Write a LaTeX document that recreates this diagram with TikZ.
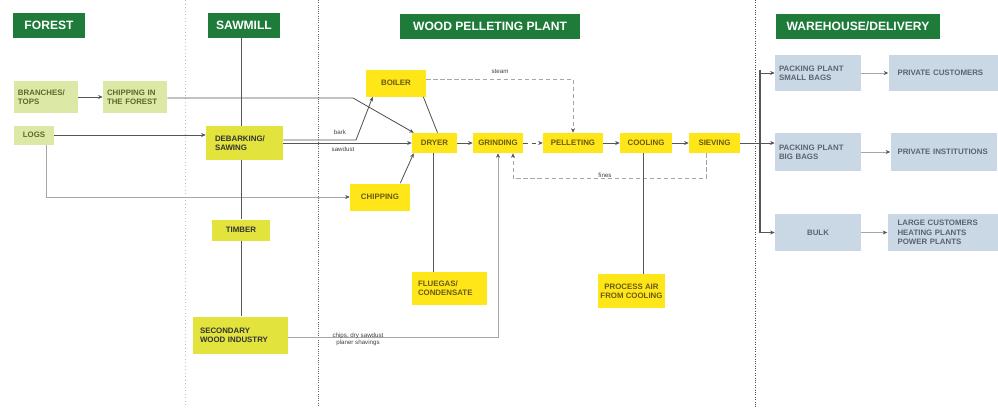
\documentclass[tikz,border=0pt]{standalone}
\usepackage{fontspec}
\setmainfont{Liberation Sans}
\usetikzlibrary{arrows.meta,positioning}
\definecolor{HeadGreen}{HTML}{1E7B3A}
\definecolor{ForestFill}{HTML}{DCE8A6}
\definecolor{ForestText}{HTML}{5A6A2A}
\definecolor{SawFill}{HTML}{E2E33C}
\definecolor{PlantFill}{HTML}{FFE619}
\definecolor{PlantText}{HTML}{6A5A10}
\definecolor{StoreFill}{HTML}{CAD8E6}
\definecolor{StoreText}{HTML}{5A6470}
\definecolor{LineGray}{HTML}{555555}

\begin{document}
\begin{tikzpicture}[
  x=0.25mm, y=-0.25mm,
  font=\fontsize{5.6}{6.6}\selectfont\bfseries,
  >={Stealth[length=3.2pt,width=2.8pt,color=LineGray]},
  % stage header (green bar)
  hdr/.style={fill=HeadGreen, text=white, font=\fontsize{8.6}{10}\selectfont\bfseries,
              minimum height=6.25mm, inner sep=2pt},
  % forest step
  fbox/.style={fill=ForestFill, text=ForestText, inner sep=1pt, align=left},
  % sawmill step
  sbox/.style={fill=SawFill, text=black!80, inner sep=1pt, align=left},
  % pelleting plant step
  pbox/.style={fill=PlantFill, text=PlantText, inner sep=1pt, align=center},
  % warehouse / delivery step
  wbox/.style={fill=StoreFill, text=StoreText, inner sep=1pt, align=left},
  % main flow line
  ln/.style={draw=LineGray, line width=0.6pt},
  % side flow line
  lnlight/.style={draw=gray!70, line width=0.4pt},
  % small flow label
  lbl/.style={font=\fontsize{4.4}{5}\selectfont, text=black!75, inner sep=0.5pt, align=center},
]

\useasboundingbox (0,0) rectangle (998,407);

%% ── Stage dividers ───────────────────────────────────────────────────────
\draw[gray!50, line width=0.5pt, dotted] (185,0) -- (185,407);
\draw[gray!80!black, line width=0.6pt, densely dotted] (318,0) -- (318,407);
\draw[black!70, line width=0.7pt, densely dotted] (755,0) -- (755,407);

%% ── Stage headers ────────────────────────────────────────────────────────
\node[hdr, minimum width=17.75mm] (forest)  at (49,25)  {FOREST};
\node[hdr, minimum width=18mm]    (sawmill) at (244,25) {SAWMILL};
\node[hdr, minimum width=45mm]    (plant)   at (490,26) {WOOD PELLETING PLANT};
\node[hdr, minimum width=41mm]    (store)   at (858,26) {WAREHOUSE/DELIVERY};

%% ── Forest ───────────────────────────────────────────────────────────────
\node[fbox, text width=14mm, inner xsep=1mm, minimum height=8mm]  (branches) at (46,97)  {BRANCHES/\\TOPS};
\node[fbox, text width=14mm, inner xsep=1mm, minimum height=8mm]  (chipF)    at (135,97) {CHIPPING IN\\THE FOREST};
\node[fbox, align=center, minimum width=10mm, minimum height=4.75mm] (logs) at (34,135)  {LOGS};

%% ── Sawmill ──────────────────────────────────────────────────────────────
\node[sbox, text width=14.75mm, inner xsep=2.25mm, minimum height=8.5mm] (debark) at (244.5,143) {DEBARKING/\\SAWING};
\node[sbox, align=center, minimum width=14.5mm, minimum height=5.25mm]  (timber) at (241,230)   {TIMBER};
\node[sbox, text width=20.25mm, inner xsep=1.75mm, minimum height=9.25mm] (second) at (240.5,335) {SECONDARY\\WOOD INDUSTRY};

%% ── Wood pelleting plant ─────────────────────────────────────────────────
\node[pbox, minimum width=15mm,    minimum height=6.75mm] (boiler)  at (396,83)    {BOILER};
\node[pbox, minimum width=11.25mm, minimum height=5mm]    (dryer)   at (434.5,143) {DRYER};
\node[pbox, minimum width=12.5mm,  minimum height=5mm]    (grind)   at (498,143)   {GRINDING};
\node[pbox, minimum width=15mm,    minimum height=5mm]    (pellet)  at (573,143)   {PELLETING};
\node[pbox, minimum width=13mm,    minimum height=5mm]    (cool)    at (646,143)   {COOLING};
\node[pbox, minimum width=12.75mm, minimum height=5mm]    (sieve)   at (714.5,143) {SIEVING};
\node[pbox, minimum width=15mm,    minimum height=6.75mm] (chipping) at (380,197)  {CHIPPING};
\node[pbox, align=left, text width=15.75mm, inner xsep=1.5mm, minimum height=8.25mm] (flue) at (449.5,288.5) {FLUEGAS/\\CONDENSATE};
\node[pbox, minimum width=16.75mm, minimum height=8.5mm]  (procair) at (631.5,291) {PROCESS AIR\\FROM COOLING};

%% ── Warehouse / delivery ─────────────────────────────────────────────────
\node[wbox, text width=19.5mm, inner xsep=1mm, minimum height=9mm]    (packS) at (818,73)    {PACKING PLANT\\SMALL BAGS};
\node[wbox, text width=23mm, inner xsep=2.25mm, minimum height=9mm]   (privC) at (943.5,73)  {PRIVATE CUSTOMERS};
\node[wbox, text width=19.5mm, inner xsep=1mm, minimum height=9.5mm]  (packB) at (818,152)   {PACKING PLANT\\BIG BAGS};
\node[wbox, text width=23mm, inner xsep=1.75mm, minimum height=9.5mm] (privI) at (943.5,152) {PRIVATE INSTITUTIONS};
\node[wbox, align=center, minimum width=21.5mm, minimum height=9.25mm] (bulk) at (818,232.5) {BULK};
\node[wbox, text width=23mm, inner xsep=2.5mm, minimum height=9.25mm] (large) at (943.5,232.5) {LARGE CUSTOMERS\\HEATING PLANTS\\POWER PLANTS};

%% ── Bend points ──────────────────────────────────────────────────────────
\coordinate (cfBend)   at (353,98);
\coordinate (barkBend) at (356,140);
\coordinate (busN)     at (760,70);
\coordinate (busS)     at (760,232.5);

%% ── Forest and sawmill flows ─────────────────────────────────────────────
\draw[ln, ->] (branches) -- (chipF);
\draw[ln, ->] (chipF.east |- cfBend) -- (cfBend) -- ([xshift=0.5mm]dryer.north west);
\draw[ln, ->] (logs.east) -- (logs.east -| debark.west);
\draw[lnlight, ->] ([xshift=3mm]logs.south) |- (chipping.west);
\draw[ln] (timber |- sawmill.south) -- (timber |- debark.north);
\draw[ln] (timber |- debark.south) -- (timber.north);
\draw[ln] (timber.south) -- (timber |- second.north);

%% ── Into the dryer ───────────────────────────────────────────────────────
\draw[ln, ->] (debark.east) -- (dryer.west);
\draw[ln, ->] (debark.east |- barkBend) -- (barkBend) -- ([xshift=1.75mm]boiler.south west);
\node[lbl] (barkL) at (340,132) {bark};
\node[lbl] (sawL)  at (343,149) {sawdust};
\draw[ln] ([xshift=-0.75mm]boiler.south east) -- ([xshift=0.75mm]dryer.north);
\draw[ln, ->] ([xshift=-2.5mm]chipping.north east) -- ([xshift=0.5mm]dryer.south west);
\draw[lnlight, densely dashed, ->] (boiler.east |- 0,79) -| (pellet.north);
\node[lbl] (steamL) at (500,72) {steam};

%% ── Pelleting line ───────────────────────────────────────────────────────
\draw[ln, ->] (dryer) -- (grind);
\draw[ln, ->, dashed] (grind) -- (pellet);
\draw[ln, ->] (pellet) -- (cool);
\draw[ln, ->] (cool) -- (sieve);
\draw[lnlight, densely dashed, ->] ([xshift=-2mm]sieve.south) -- ++(0,25) -| ([xshift=3.75mm]grind.south);
\node[lbl] (finesL) at (605,175) {fines};
\draw[ln, line width=0.9pt] ([xshift=-0.3mm]dryer.south) -- ([xshift=-0.3mm]dryer.south |- flue.north);
\draw[ln] ([xshift=-0.75mm]cool.south) -- ([xshift=-0.75mm]cool.south |- procair.north);
\draw[lnlight, ->] (second.east |- 0,337) -| (grind.south);
\node[lbl] (chipsL) at (358,339) {chips, dry sawdust\\planer shavings};

%% ── Delivery ─────────────────────────────────────────────────────────────
\draw[ln] (sieve.east) -- (sieve.east -| busN);
\draw[LineGray, line width=1.2pt] (busN) -- (busS);
\draw[ln, ->] (busN |- packS.west) -- (packS.west);
\draw[ln, ->] (sieve.east -| busN) -- (sieve.east -| packB.west);
\draw[ln, ->] (busS) -- (bulk.west);
\draw[lnlight, ->] (packS) -- (privC);
\draw[lnlight, ->] (packB) -- (privI);
\draw[lnlight, ->] (bulk) -- (large);

\end{tikzpicture}
\end{document}
